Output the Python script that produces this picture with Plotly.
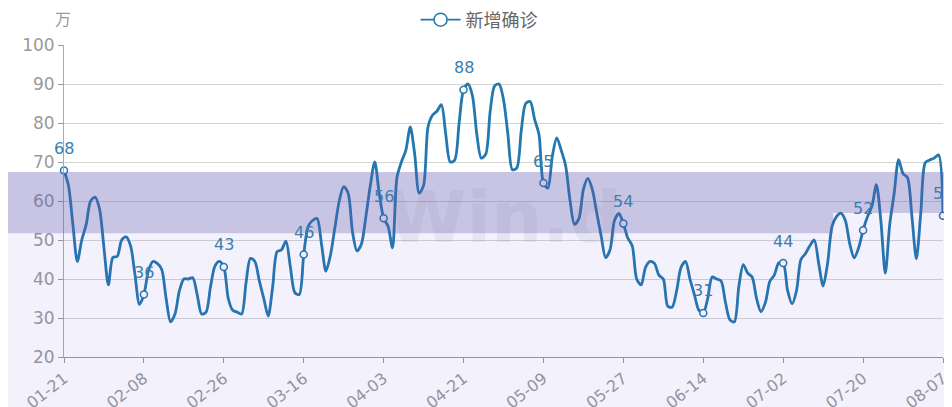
import pandas as pd
import plotly.graph_objects as go

# ---- data ----
start_date = "2022-01-21"
values = [
    67.8, 64, 54, 44.5, 50, 54, 60, 61, 58, 48,
    38.5, 45.5, 45.8, 50, 50.8, 48.5, 41, 33.5, 36.0, 42,
    44.5, 44, 42.5, 35, 29, 31, 37, 40, 40, 40.3,
    36, 31, 31.5, 38, 43.3, 44.5, 43.1, 35, 32, 31.5,
    31, 39, 45.3, 44.5, 39.5, 35, 30.5, 38, 47, 47.5,
    49.7, 43, 36.5, 36, 46.3, 53.5, 55, 55.5, 49, 42,
    46, 53, 60, 63.7, 62, 52, 47.2, 49, 56, 64,
    70, 62, 55.6, 53.5, 48, 66, 70, 73, 79, 72,
    62, 64, 79, 82, 83, 84.7, 77, 70, 70.5, 80,
    88.5, 90, 87, 77, 71, 72, 83, 89.5, 90, 86,
    77, 68, 68.5, 78, 85, 85.5, 81, 77, 64.6, 63.3,
    71.5, 76.2, 73, 69, 60, 54, 55.5, 63, 65.8, 63,
    57, 51, 45.5, 47.5, 55, 56.8, 54.2, 50.5, 48.5, 40,
    38.5, 43, 44.5, 44, 41, 40, 33, 32.8, 37, 43,
    44.5, 40, 36, 32, 31.3, 35, 40.5, 40, 39.5, 34,
    29.5, 29, 38, 43.7, 41.5, 40.5, 35, 31.6, 34, 39.4,
    41, 44.1, 44.1, 37, 33.6, 37, 45, 46.5, 48.5, 50,
    44, 38.2, 44, 53.5, 56, 56.9, 55, 49, 45.4, 48,
    52.5, 56, 58.7, 64.2, 55, 41.5, 54, 62, 70.6, 67,
    66, 56, 45.2, 57, 69.8, 70.5, 71, 71.8, 56.2,
]
dates = pd.date_range(start_date, periods=len(values), freq="D").strftime("%m-%d").tolist()
label_step = 18
label_dates = dates[::label_step]
label_values = values[::label_step]
label_texts = [str(int(round(v))) for v in label_values]
series_name = "新增确诊"
unit_label = "万"

# ---- style ----
NUM_FONT = "DejaVu Sans"
CJK_FONT = "Noto Sans CJK SC"
LINE_COLOR = "#2378AD"
LABEL_COLOR = "#3A7EAD"
GRAY = "#9a9a9a"

fig = go.Figure()

fig.add_trace(go.Scatter(
    x=dates, y=values, mode="lines",
    line=dict(color=LINE_COLOR, width=2.8, shape="spline", smoothing=0.8),
    showlegend=False, hoverinfo="x+y",
))
fig.add_trace(go.Scatter(
    x=label_dates, y=label_values, mode="markers",
    marker=dict(symbol="circle", size=7, color="white",
                line=dict(color=LINE_COLOR, width=1.5)),
    cliponaxis=False, showlegend=False,
))
# legend entry
fig.add_trace(go.Scatter(
    x=[None], y=[None], mode="lines+markers", name=series_name,
    line=dict(color=LINE_COLOR, width=1.6),
    marker=dict(symbol="circle", size=13, color="white",
                line=dict(color=LINE_COLOR, width=1.5)),
))

# value labels above the marked points
label_annotations = [
    dict(x=xd, y=yv, text=t, xref="x", yref="y", showarrow=False,
         xanchor="center", yanchor="middle", yshift=22,
         font=dict(color=LABEL_COLOR, size=16, family=NUM_FONT))
    for xd, yv, t in zip(label_dates, label_values, label_texts)
]

# overlay bands (selection-like shading)
DARK = "rgba(95,84,175,0.34)"
LIGHT = "rgba(90,70,220,0.075)"
shapes = [
    dict(type="rect", xref="paper", yref="paper", x0=-0.065, x1=0.875,
         y0=0.397, y1=0.593, fillcolor=DARK, line_width=0, layer="above"),
    dict(type="rect", xref="paper", yref="paper", x0=0.875, x1=1.03,
         y0=0.4615, y1=0.593, fillcolor=DARK, line_width=0, layer="above"),
    dict(type="rect", xref="paper", yref="paper", x0=-0.065, x1=0.875,
         y0=-0.25, y1=0.397, fillcolor=LIGHT, line_width=0, layer="above"),
    dict(type="rect", xref="paper", yref="paper", x0=0.875, x1=1.03,
         y0=-0.25, y1=0.4615, fillcolor=LIGHT, line_width=0, layer="above"),
]

fig.update_layout(
    width=944, height=399,
    margin=dict(l=56, r=9, t=37, b=50, autoexpand=False),
    paper_bgcolor="white", plot_bgcolor="white",
    font=dict(family=NUM_FONT, color=GRAY, size=15),
    shapes=shapes,
    legend=dict(orientation="h", xref="container", yref="container",
                x=0.499, xanchor="center", y=0.970, yanchor="middle",
                font=dict(size=18, color="#666", family=CJK_FONT), itemwidth=40),
    annotations=[
        dict(text=unit_label, xref="paper", yref="paper", x=-0.001, y=1.087,
             xanchor="center", yanchor="middle", showarrow=False,
             font=dict(size=16, color=GRAY, family=CJK_FONT)),
        dict(text="<b>Win.d</b>", xref="paper", yref="paper", x=0.5, y=0.45,
             xanchor="center", yanchor="middle", showarrow=False,
             font=dict(size=72, color="rgba(110,105,130,0.09)", family="DejaVu Sans")),
    ] + label_annotations,
    xaxis=dict(
        type="category", range=[0, len(values) - 1], automargin=False,
        tickmode="array", tickvals=label_dates, ticktext=label_dates,
        tickangle=-38, ticks="outside", ticklen=5, tickcolor=GRAY,
        showline=True, linecolor="#999", linewidth=1.2,
        showgrid=False, tickfont=dict(size=16, color=GRAY, family=NUM_FONT),
    ),
    yaxis=dict(
        range=[20, 100], dtick=10, ticks="outside", ticklen=5, tickcolor=GRAY,
        showline=True, linecolor="#aaa", linewidth=1, automargin=False,
        showgrid=True, gridcolor="#d4d4d4", gridwidth=1, zeroline=False,
        tickfont=dict(size=17, color=GRAY, family=NUM_FONT),
    ),
)

fig.write_html("out.html")
